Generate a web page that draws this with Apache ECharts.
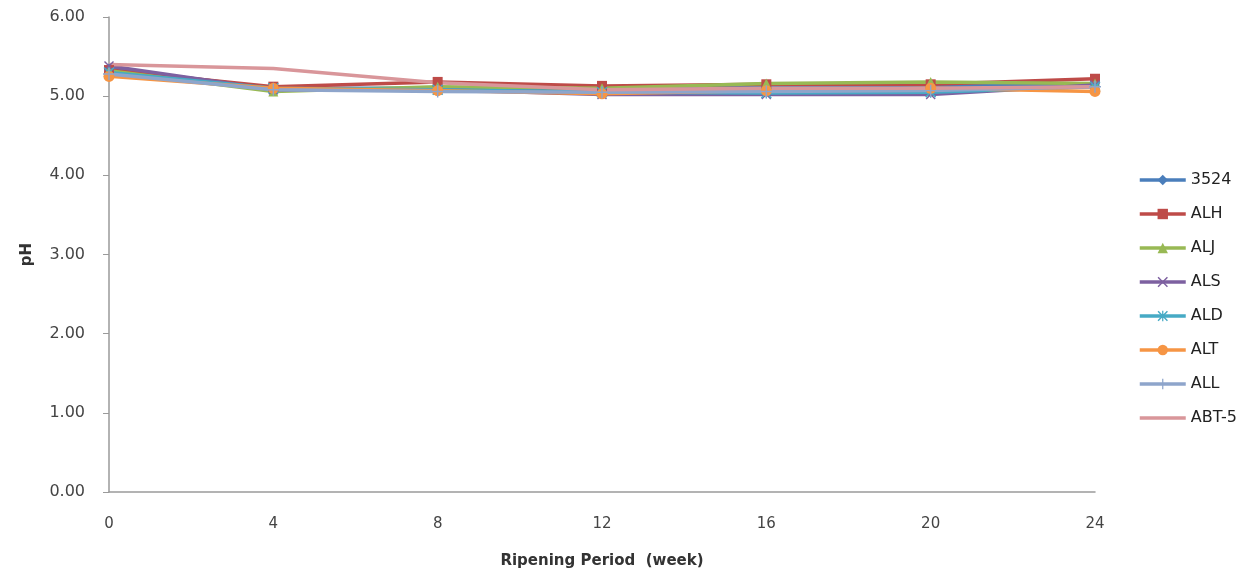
<!DOCTYPE html>
<html>
<head>
<meta charset="utf-8">
<script src="https://cdn.jsdelivr.net/npm/echarts@6/dist/echarts.min.js"></script>
<style>
  html, body { margin: 0; padding: 0; background: #fff; }
  #main { width: 1247px; height: 575px; }
</style>
</head>
<body>
<div id="main"></div>
<script>
// weeks on the x axis
var weeks = ['0', '4', '8', '12', '16', '20', '24'];

// pH values
var s3524 = [5.35, 5.10, 5.10, 5.08, 5.12, 5.13, 5.14];
var sALH  = [5.33, 5.12, 5.18, 5.13, 5.15, 5.15, 5.22];
var sALJ  = [5.32, 5.06, 5.12, 5.10, 5.16, 5.18, 5.16];
var sALS  = [5.38, 5.08, 5.08, 5.02, 5.02, 5.02, 5.14];
var sALD  = [5.30, 5.10, 5.08, 5.05, 5.04, 5.05, 5.12];
var sALT  = [5.25, 5.10, 5.07, 5.03, 5.07, 5.10, 5.06];
var sALL  = [5.28, 5.08, 5.06, 5.05, 5.06, 5.07, 5.12];
var sABT5 = [5.40, 5.35, 5.17, 5.08, 5.10, 5.10, 5.12];

var names = ['3524', 'ALH', 'ALJ', 'ALS', 'ALD', 'ALT', 'ALL', 'ABT-5'];
var colors = ['#4A7EBB', '#BE4B48', '#98B954', '#7D60A0', '#46AAC5', '#F69544', '#8EA5CB', '#D9969A'];

// marker shapes, Excel style
var xPath = 'path://M0,1L1,0L5,4L9,0L10,1L6,5L10,9L9,10L5,6L1,10L0,9L4,5Z';
var plusPath = 'path://M4.4,0H5.6V4.4H10V5.6H5.6V10H4.4V5.6H0V4.4H4.4Z';
var starPath = 'path://M0,1L1,0L5,4L9,0L10,1L6,5L10,9L9,10L5,6L1,10L0,9L4,5Z' +
  'M4.4,0H5.6V10H4.4Z';
var symbols = ['diamond', 'rect', 'triangle', xPath, starPath, 'circle', plusPath, 'none'];
var sizes = [10, 10, 10, 10, 11, 11, 12, 0];
var data = [s3524, sALH, sALJ, sALS, sALD, sALT, sALL, sABT5];

var series = names.map(function (n, i) {
  return {
    name: n,
    type: 'line',
    data: data[i],
    symbol: symbols[i],
    symbolSize: sizes[i],
    showSymbol: symbols[i] !== 'none',
    color: colors[i],
    lineStyle: { width: 3.5, color: colors[i] },
    itemStyle: { color: colors[i] },
    emphasis: { disabled: true }
  };
});

// legend entries; the last one shows only its line
var legendData = names.map(function (n, i) {
  if (symbols[i] === 'none') {
    return { name: n, itemStyle: { opacity: 0 } };
  }
  return { name: n };
});

var chart = echarts.init(document.getElementById('main'));
chart.setOption({
  animation: false,
  textStyle: { fontFamily: 'DejaVu Sans' },
  grid: { left: 109, right: 152, top: 17, bottom: 83 },
  legend: {
    orient: 'vertical',
    left: 1133,
    top: 167,
    itemWidth: 46,
    itemHeight: 13,
    itemGap: 18,
    data: legendData,
    lineStyle: { width: 3.5 },
    textStyle: { fontSize: 16, color: '#222' }
  },
  xAxis: {
    type: 'category',
    data: weeks,
    boundaryGap: false,
    name: 'Ripening Period  (week)',
    nameLocation: 'middle',
    nameGap: 62,
    nameTextStyle: { fontSize: 15, fontWeight: 'bold', color: '#333' },
    axisLine: { lineStyle: { color: '#9a9a9a', width: 1.5 } },
    axisTick: { show: false },
    axisLabel: { fontSize: 15, color: '#444', margin: 25 }
  },
  yAxis: {
    type: 'value',
    min: 0,
    max: 6,
    interval: 1,
    name: 'pH',
    nameLocation: 'middle',
    nameGap: 74,
    nameTextStyle: { fontSize: 15, fontWeight: 'bold', color: '#333' },
    axisLine: { show: true, lineStyle: { color: '#9a9a9a', width: 1.5 } },
    axisTick: { show: true, length: 6, lineStyle: { color: '#9a9a9a' } },
    splitLine: { show: false },
    axisLabel: {
      fontSize: 16,
      color: '#444',
      margin: 24,
      formatter: function (v) { return v.toFixed(2); }
    }
  },
  series: series
});
</script>
</body>
</html>
